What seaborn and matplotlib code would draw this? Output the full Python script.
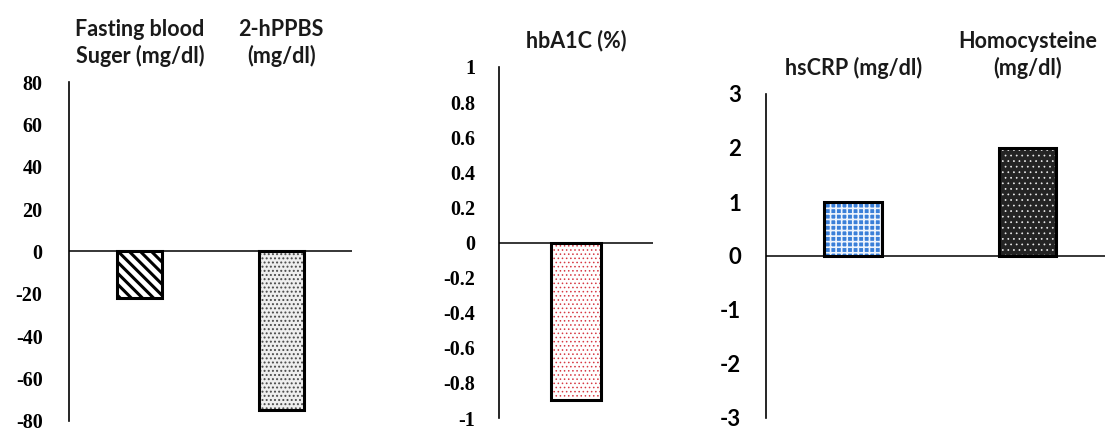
import matplotlib
matplotlib.use("Agg")
import matplotlib.pyplot as plt
import seaborn as sns

# ---- data ----
glucose_cats = ["Fasting blood\nSuger (mg/dl)", "2-hPPBS\n(mg/dl)"]
glucose_vals = [-22, -75]
glucose_ticks = [80, 60, 40, 20, 0, -20, -40, -60, -80]

hba1c_cats = ["hbA1C (%)"]
hba1c_vals = [-0.9]
hba1c_ticks = [1, 0.8, 0.6, 0.4, 0.2, 0, -0.2, -0.4, -0.6, -0.8, -1]

inflam_cats = ["hsCRP (mg/dl)", "Homocysteine\n(mg/dl)"]
inflam_vals = [1, 2]
inflam_ticks = [3, 2, 1, 0, -1, -2, -3]

sns.set_theme(style="white")
plt.rcParams["hatch.linewidth"] = 1.0

fig = plt.figure(figsize=(11.05, 4.33), dpi=100)
W, H = 1105, 433

def axes_px(x0, x1, ytop, ybot):
    return fig.add_axes([x0 / W, 1 - ybot / H, (x1 - x0) / W, (ybot - ytop) / H])

ax1 = axes_px(69, 352, 82, 421)
ax2 = axes_px(499, 653, 67, 418)
ax3 = axes_px(766, 1105, 94, 418)

# styles per bar: (facecolor, hatch, hatchcolor, hatch linewidth)
styles1 = [("white", "\\\\\\", "black", 2.2), ("#eeeeee", "....", "#4a4a4a", 0.9)]
styles2 = [("white", "....", "#d63a44", 0.6)]
styles3 = [("#3a7fd8", "+++", "#eef4fc", 1.2), ("#242424", "...", "#eeeeee", 0.5)]

def draw(ax, cats, vals, ylim, ticks, width, xlim, styles, tickfont, tickpad):
    sns.barplot(x=cats, y=vals, ax=ax, color="white", edgecolor="black",
                linewidth=2.2, width=width, saturation=1)
    for p, (fc, hatch, hc, hlw) in zip(ax.patches, styles):
        p.set_facecolor(fc)
        p.set_hatch(hatch)
        if hasattr(p, "set_hatchcolor"):
            p.set_hatchcolor(hc)
        else:
            p._hatch_color = matplotlib.colors.to_rgba(hc)
        if hasattr(p, "set_hatch_linewidth"):
            p.set_hatch_linewidth(hlw)
        else:
            p._hatch_linewidth = hlw
    ax.set_ylim(*ylim)
    ax.set_xlim(*xlim)
    ax.set_yticks(ticks)
    ax.set_yticklabels([f"{t:g}" for t in ticks], **tickfont)
    ax.tick_params(axis="y", length=0, pad=tickpad, colors="black")
    ax.xaxis.tick_top()
    ax.tick_params(axis="x", length=0, pad=11)
    ax.set_xticks(range(len(cats)))
    ax.set_xticklabels(cats, family="Lato", weight="bold", fontsize=15.5,
                       color="#1a1a1a", linespacing=1.25)
    for s in ["top", "right", "bottom"]:
        ax.spines[s].set_visible(False)
    ax.spines["left"].set_color("black")
    ax.spines["left"].set_linewidth(1.2)
    ax.axhline(0, color="black", lw=1.1, zorder=0.5)
    ax.set_xlabel("")
    ax.set_ylabel("")
    ax.set_facecolor("white")

serif = dict(family="Liberation Serif", weight="bold", fontsize=14.5, color="#111111")
sans = dict(family="Lato", weight="bold", fontsize=16, color="#1a1a1a")

draw(ax1, glucose_cats, glucose_vals, (-80, 80), glucose_ticks, 0.32,
     (-0.5, 1.5), styles1, serif, 19)
draw(ax2, hba1c_cats, hba1c_vals, (-1, 1), hba1c_ticks, 0.32,
     (-0.5, 0.5), styles2, serif, 17)
draw(ax3, inflam_cats, inflam_vals, (-3, 3), inflam_ticks, 0.33,
     (-0.5, 1.443), styles3, sans, 18)

fig.savefig("out.png", dpi=100, facecolor="white")
